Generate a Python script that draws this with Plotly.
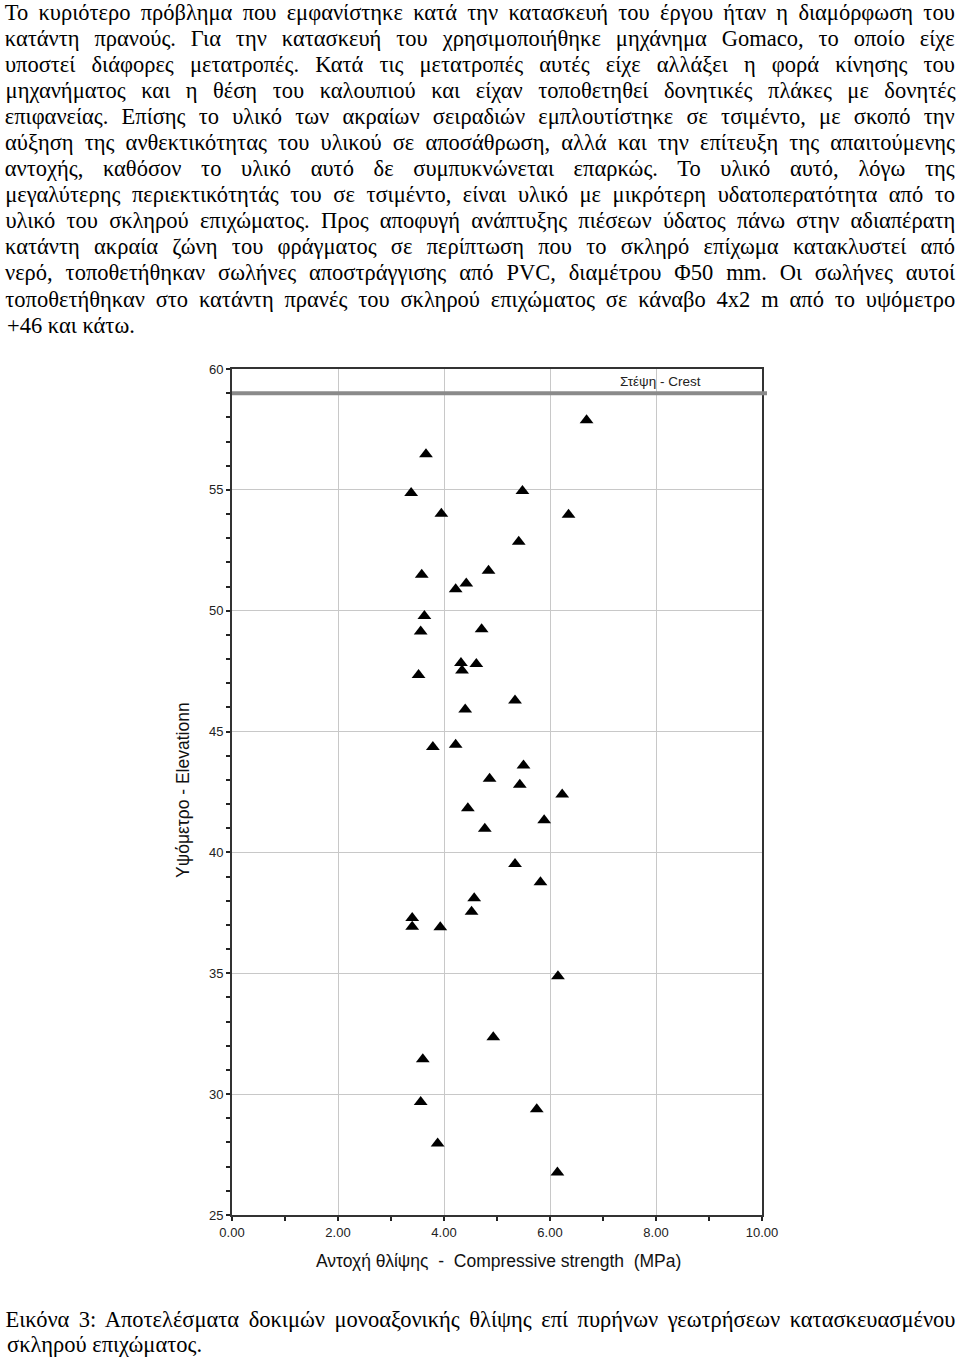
import json
import plotly.graph_objects as go

# ---------------- data ----------------
strength = [6.69, 3.66, 3.38, 5.48, 3.95, 6.35, 5.41, 3.58, 4.84, 4.42, 4.22, 3.63, 3.56, 4.71,
            4.32, 4.61, 4.34, 3.52, 5.34, 4.40, 3.79, 4.22, 5.50, 4.86, 5.43, 6.23, 4.45, 5.89,
            4.77, 5.34, 5.82, 4.57, 4.52, 3.40, 3.40, 3.93,
            6.15, 4.93, 3.60, 3.56, 5.75, 3.88, 6.14]
elevation = [57.88, 56.47, 54.87, 54.95, 54.01, 53.97, 52.85, 51.49, 51.65, 51.13, 50.89, 49.78, 49.14, 49.23,
             47.84, 47.80, 47.53, 47.34, 46.29, 45.91, 44.36, 44.45, 43.60, 43.05, 42.80, 42.40, 41.83, 41.33,
             40.98, 39.52, 38.77, 38.10, 37.55, 37.29, 36.93, 36.90,
             34.88, 32.35, 31.44, 29.68, 29.38, 27.96, 26.76]
crest_elevation = 59
crest_label = "Στέψη - Crest"
x_ticks = [0, 2, 4, 6, 8, 10]
y_ticks = [25, 30, 35, 40, 45, 50, 55, 60]
x_title = "Αντοχή θλίψης  -  Compressive strength  (MPa)"
y_title = "Υψόμετρο - Elevationn"

paragraph_lines = [
    "Το κυριότερο πρόβλημα που εμφανίστηκε κατά την κατασκευή του έργου ήταν η διαμόρφωση του",
    "κατάντη πρανούς. Για την κατασκευή του χρησιμοποιήθηκε μηχάνημα Gomaco, το οποίο είχε",
    "υποστεί διάφορες μετατροπές. Κατά τις μετατροπές αυτές είχε αλλάξει η φορά κίνησης του",
    "μηχανήματος και η θέση του καλουπιού και είχαν τοποθετηθεί δονητικές πλάκες με δονητές",
    "επιφανείας. Επίσης το υλικό των ακραίων σειραδιών εμπλουτίστηκε σε τσιμέντο, με σκοπό την",
    "αύξηση της ανθεκτικότητας του υλικού σε αποσάθρωση, αλλά και την επίτευξη της απαιτούμενης",
    "αντοχής, καθόσον το υλικό αυτό δε συμπυκνώνεται επαρκώς. Το υλικό αυτό, λόγω της",
    "μεγαλύτερης περιεκτικότητάς του σε τσιμέντο, είναι υλικό με μικρότερη υδατοπερατότητα από το",
    "υλικό του σκληρού επιχώματος. Προς αποφυγή ανάπτυξης πιέσεων ύδατος πάνω στην αδιαπέρατη",
    "κατάντη ακραία ζώνη του φράγματος σε περίπτωση που το σκληρό επίχωμα κατακλυστεί από",
    "νερό, τοποθετήθηκαν σωλήνες αποστράγγισης από PVC, διαμέτρου Φ50 mm. Οι σωλήνες αυτοί",
    "τοποθετήθηκαν στο κατάντη πρανές του σκληρού επιχώματος σε κάναβο 4x2 m από το υψόμετρο",
    "+46 και κάτω.",
]
caption_lines = [
    "Εικόνα 3: Αποτελέσματα δοκιμών μονοαξονικής θλίψης επί πυρήνων γεωτρήσεων κατασκευασμένου",
    "σκληρού επιχώματος.",
]

# ---------------- layout constants ----------------
W, H = 960, 1357
PX0, PX1 = 232, 762      # plot area left/right (px)
PY0, PY1 = 369, 1215     # plot area top/bottom (px)
TEXT_L, TEXT_R = 5, 955  # justified text block edges (px)

def px(xp):
    return xp / W

def py(yp):
    return 1 - yp / H

fig = go.Figure()
fig.add_trace(go.Scatter(
    x=strength, y=elevation, mode="markers",
    marker=dict(symbol="triangle-up", size=12, color="black"),
    showlegend=False, hoverinfo="x+y",
))

sans = "Liberation Sans, Arial, sans-serif"
axis_font = dict(family=sans, size=13, color="#222")
common_axis = dict(showgrid=True, gridcolor="#c8c8c8", gridwidth=1,
                   ticks="outside", ticklen=4, tickwidth=1.5, tickcolor="#222",
                   showline=True, linecolor="#333", linewidth=2, mirror=True,
                   zeroline=False, tickfont=axis_font)
fig.update_layout(
    width=W, height=H, margin=dict(l=0, r=0, t=0, b=0, autoexpand=False),
    paper_bgcolor="white", plot_bgcolor="white",
    xaxis=dict(domain=[px(PX0), px(PX1)], range=[0, 10], tickvals=x_ticks, tickformat=".2f",
               minor=dict(dtick=1, ticks="outside", ticklen=4, tickcolor="#222", showgrid=False),
               **common_axis),
    yaxis=dict(domain=[py(PY1), py(PY0)], range=[25, 60], tickvals=y_ticks,
               minor=dict(dtick=1, ticks="outside", ticklen=4, tickcolor="#222", showgrid=False),
               **common_axis),
)

# crest line and label
fig.add_shape(type="line", xref="paper", yref="y", x0=px(PX0), x1=px(PX1 + 5),
              y0=crest_elevation, y1=crest_elevation, line=dict(color="#8a8a8a", width=4))
fig.add_annotation(x=8.08, y=crest_elevation + 0.5, xref="x", yref="y", text=crest_label,
                   xanchor="center", yanchor="middle",
                   showarrow=False, font=dict(family=sans, size=13.5, color="#222"))

# axis titles
fig.add_annotation(x=px(183), y=py(790), xref="paper", yref="paper", text=y_title, textangle=-90,
                   xanchor="center", yanchor="middle",
                   showarrow=False, font=dict(family=sans, size=17.5, color="#111"))
fig.add_annotation(x=px(498), y=py(1261), xref="paper", yref="paper", text=x_title.replace(" ", "\u00a0"),
                   xanchor="center", yanchor="middle",
                   showarrow=False, font=dict(family=sans, size=17.5, color="#111"))

# body text: justified lines are centred on the text block and spread by the script below
serif = dict(family="Liberation Serif, Times New Roman, serif", size=22.5, color="black")
justified = []

def add_text_block(lines, y_first, step):
    for i, line in enumerate(lines):
        last = (i == len(lines) - 1)
        if last:
            fig.add_annotation(x=px(TEXT_L), y=py(y_first + i * step), xref="paper", yref="paper",
                               text=line, xanchor="left", yanchor="middle", showarrow=False, font=serif)
        else:
            justified.append(line)
            fig.add_annotation(x=px((TEXT_L + TEXT_R) / 2), y=py(y_first + i * step), xref="paper",
                               yref="paper", text=line, xanchor="center", yanchor="middle",
                               showarrow=False, font=serif)

add_text_block(paragraph_lines, 12, 26.1)
add_text_block(caption_lines, 1319, 25.5)

post = """
document.body.style.margin = '0';
document.body.style.padding = '0';
var J = %s;
var target = %d;
document.querySelectorAll('.annotation-text').forEach(function (el) {
  var t = el.textContent;
  if (J.indexOf(t) < 0) return;
  var n = el.getComputedTextLength();
  var spaces = (t.match(/ /g) || []).length;
  if (spaces > 0 && n < target) {
    el.style.wordSpacing = ((target - n) / spaces) + 'px';
    var n2 = el.getComputedTextLength();
    if (Math.abs(n2 - n) < 1) {
      el.setAttribute('textLength', target);
      el.setAttribute('lengthAdjust', 'spacing');
    }
  }
});
""" % (json.dumps(justified, ensure_ascii=False), TEXT_R - TEXT_L)

fig.write_html("out.html", post_script=post)
